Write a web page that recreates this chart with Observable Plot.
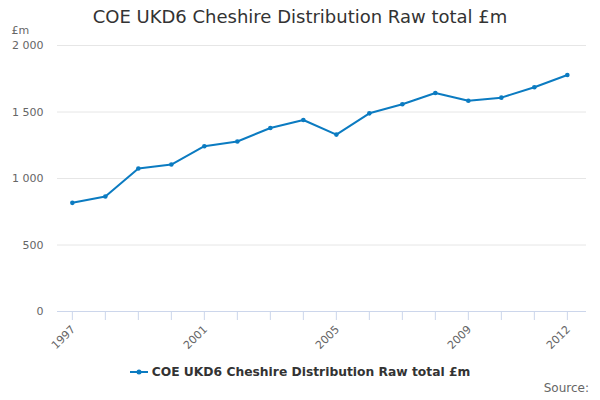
<!DOCTYPE html>
<html>
<head>
<meta charset="utf-8">
<script src="https://cdn.jsdelivr.net/npm/d3@7"></script>
<script src="https://cdn.jsdelivr.net/npm/@observablehq/plot@0.6"></script>
<style>
  body { margin: 0; background: #fff; font-family: "DejaVu Sans", sans-serif; }
  #wrap { position: relative; width: 600px; height: 400px; overflow: hidden; }
  #title { position: absolute; left: 0; width: 600px; top: 6px; text-align: center; font-size: 18px; color: #333; }
  #legend { position: absolute; left: 0; width: 600px; top: 365px; text-align: center; font-size: 12.3px; font-weight: bold; color: #333; }
  #legend svg { vertical-align: -1px; margin-right: 4px; }
  #source { position: absolute; right: 11px; top: 381px; font-size: 12px; color: #666; }
  #chart { position: absolute; left: 0; top: 0; }
</style>
</head>
<body>
<div id="wrap">
  <div id="chart"></div>
  <div id="title">COE UKD6 Cheshire Distribution Raw total £m</div>
  <div id="legend"><svg width="18" height="10"><line x1="0" y1="5" x2="18" y2="5" stroke="#0b7bc1" stroke-width="2"/><circle cx="9" cy="5" r="2.5" fill="#0b7bc1"/></svg>COE UKD6 Cheshire Distribution Raw total £m</div>
  <div id="source">Source:</div>
</div>
<script>
const years = [1997,1998,1999,2000,2001,2002,2003,2004,2005,2006,2007,2008,2009,2010,2011,2012];
const values = [817,865,1075,1105,1243,1278,1380,1440,1330,1490,1558,1643,1585,1608,1686,1778];
const yTicks = [0,500,1000,1500,2000];
const xLabelYears = [1997,2001,2005,2009,2012];
const color = "#0b7bc1";

const data = years.map((y,i)=>({year:y, value:values[i]}));
const fmt = v => d3.format(",")(v).replace(/,/g, " ");

const plot = Plot.plot({
  width: 600,
  height: 400,
  marginLeft: 57,
  marginRight: 14,
  marginTop: 45,
  marginBottom: 89,
  style: {fontFamily: "DejaVu Sans, sans-serif", fontSize: "11px", background: "transparent"},
  x: {domain: [1996.55, 2012.58], axis: null},
  y: {domain: [0, 2000], axis: null},
  marks: [
    Plot.ruleY(yTicks.filter(d=>d>0), {stroke: "#e6e6e6", strokeWidth: 1, strokeOpacity: 1}),
    Plot.axisX(years, {tickSize: 9, tickFormat: () => "", stroke: "#ccd6eb", strokeOpacity: 1, label: null}),
    Plot.ruleY([0], {stroke: "#ccd6eb", strokeWidth: 1, strokeOpacity: 1}),
    Plot.axisY(yTicks, {tickSize: 0, tickPadding: 14, tickFormat: fmt, fill: "#666", fontSize: 11, label: null}),
    Plot.text(xLabelYears, {x: d=>d, y: 0, text: d=>String(d), rotate: -45, textAnchor: "end", dx: 1, dy: 16, fill: "#666", fontSize: 11}),
    Plot.text(["£m"], {frameAnchor: "top-left", dx: -46, dy: -19, fill: "#666", fontSize: 11, textAnchor: "start"}),
    Plot.line(data, {x: "year", y: "value", stroke: color, strokeWidth: 2}),
    Plot.dot(data, {x: "year", y: "value", fill: color, r: 2.3})
  ]
});
document.getElementById("chart").appendChild(plot);
</script>
</body>
</html>
